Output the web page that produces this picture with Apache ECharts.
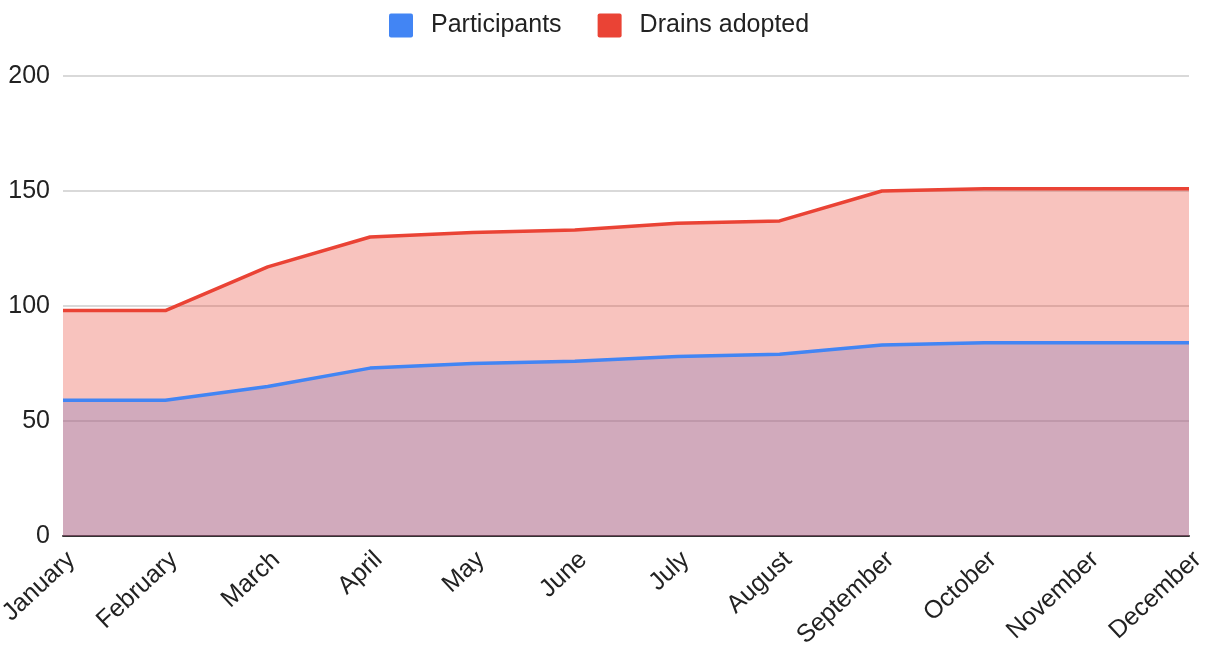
<!DOCTYPE html>
<html>
<head>
<meta charset="utf-8">
<script src="https://cdn.jsdelivr.net/npm/echarts@6/dist/echarts.min.js"></script>
<style>html,body{margin:0;padding:0;background:#fff;}#c{width:1213px;height:650px;}</style>
</head>
<body>
<div id="c"></div>
<script>
const months = ['January','February','March','April','May','June','July','August','September','October','November','December'];
const participants = [59, 59, 65, 73, 75, 76, 78, 79, 83, 84, 84, 84];
const drainsAdopted = [98, 98, 117, 130, 132, 133, 136, 137, 150, 151, 151, 151];
const yTicks = [0, 50, 100, 150, 200];

const chart = echarts.init(document.getElementById('c'));
const font = "'Liberation Sans', Arial, Helvetica, sans-serif";
const BLUE = '#4285f4', RED = '#ea4335';
chart.setOption({
  animation: false,
  textStyle: { fontFamily: font },
  legend: {
    top: 8, left: 384,
    itemWidth: 24, itemHeight: 24, itemGap: 36,
    icon: 'path://M2,0 H22 A2,2 0 0 1 24,2 V22 A2,2 0 0 1 22,24 H2 A2,2 0 0 1 0,22 V2 A2,2 0 0 1 2,0 Z',
    textStyle: { fontSize: 25, color: '#222', fontFamily: font, padding: [0, 0, 0, 13] },
    data: [{ name: 'Participants', itemStyle: { color: BLUE } }, { name: 'Drains adopted', itemStyle: { color: RED } }]
  },
  grid: { left: 63, right: 24, top: 76, bottom: 114, containLabel: false, outerBoundsMode: 'none' },
  xAxis: {
    type: 'category', data: months, boundaryGap: false,
    axisLine: { lineStyle: { color: '#333', width: 2 } },
    axisTick: { show: false },
    axisLabel: { rotate: 43, fontSize: 25, color: '#222', margin: 11, verticalAlign: 'top', interval: 0, fontFamily: font },
    splitLine: { show: false }
  },
  yAxis: {
    type: 'value', min: yTicks[0], max: yTicks[yTicks.length-1], interval: 50,
    axisLine: { show: false }, axisTick: { show: false },
    axisLabel: { fontSize: 25, color: '#222', margin: 13, fontFamily: font },
    splitLine: { lineStyle: { color: '#cccccc', width: 1.5 } }
  },
  series: [
    {
      name: 'Participants', type: 'line', data: participants,
      symbol: 'none', color: BLUE,
      lineStyle: { width: 0 },
      areaStyle: { color: BLUE, opacity: 0.3 },
      z: 1
    },
    {
      name: 'Drains adopted', type: 'line', data: drainsAdopted,
      symbol: 'none', color: RED,
      lineStyle: { width: 0 },
      areaStyle: { color: RED, opacity: 0.32 },
      z: 2
    },
    {
      name: 'Participants', type: 'line', data: participants,
      symbol: 'none', color: BLUE,
      lineStyle: { width: 3.5, color: BLUE },
      z: 3
    },
    {
      name: 'Drains adopted', type: 'line', data: drainsAdopted,
      symbol: 'none', color: RED,
      lineStyle: { width: 3.5, color: RED },
      z: 3
    }
  ]
});
</script>
</body>
</html>
